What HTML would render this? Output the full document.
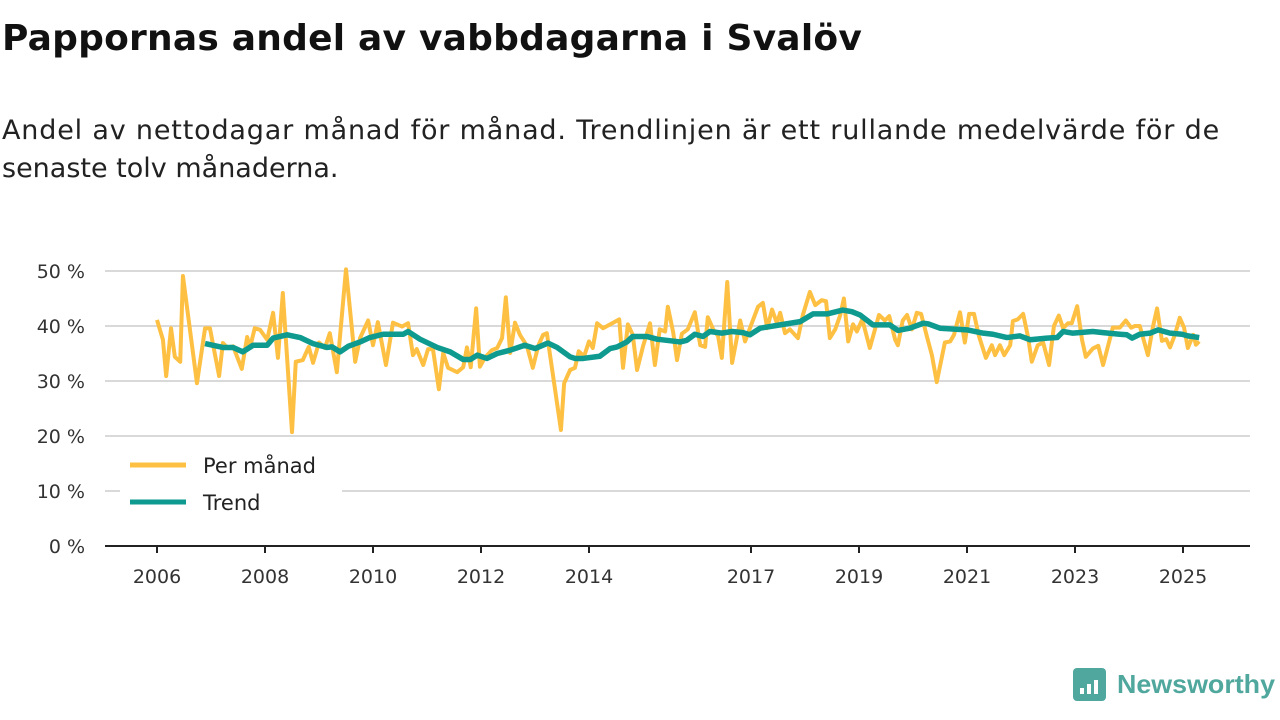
<!DOCTYPE html>
<html><head><meta charset="utf-8">
<style>
body{margin:0;width:1280px;height:720px;background:#fff;font-family:"DejaVu Sans","Liberation Sans",sans-serif;overflow:hidden;position:relative}
h1{position:absolute;left:2px;top:18px;margin:0;font-size:36px;font-weight:bold;color:#111;white-space:nowrap}
.sub{position:absolute;left:2px;top:112px;font-size:27px;line-height:38px;color:#222;white-space:nowrap}
.sub span{display:inline-block}
svg{position:absolute;left:0;top:0}
</style></head><body>
<h1 id="title">Pappornas andel av vabbdagarna i Svalöv</h1>
<div class="sub"><span id="s1">Andel av nettodagar månad för månad. Trendlinjen är ett rullande medelvärde för de</span><br><span>senaste tolv månaderna.</span></div>
<svg id="chart" width="1280" height="720"></svg>
<script>
const monthlyDates=[2006.00,2006.11,2006.17,2006.26,2006.33,2006.43,2006.48,2006.74,2006.89,2006.98,
2007.15,2007.22,2007.31,2007.41,2007.57,2007.67,2007.72,2007.81,2007.91,
2008.04,2008.15,2008.24,2008.33,2008.50,2008.57,2008.70,2008.81,2008.89,
2009.00,2009.11,2009.20,2009.33,2009.50,2009.67,2009.76,2009.91,
2010.00,2010.09,2010.24,2010.37,2010.54,2010.65,2010.74,2010.81,2010.93,
2011.02,2011.11,2011.22,2011.30,2011.39,2011.56,2011.67,2011.74,2011.81,2011.91,2011.98,
2012.07,2012.20,2012.30,2012.39,2012.46,2012.54,2012.63,2012.72,2012.85,2012.96,
2013.06,2013.15,2013.22,2013.48,2013.54,2013.65,2013.74,2013.81,2013.91,
2014.00,2014.07,2014.15,2014.26,2014.43,2014.56,2014.63,2014.72,2014.81,2014.89,
2015.00,2015.13,2015.22,2015.31,2015.41,2015.46,2015.56,2015.63,2015.72,2015.83,2015.96,
2016.06,2016.15,2016.20,2016.30,2016.39,2016.46,2016.56,2016.65,2016.80,2016.89,2016.98,
2017.13,2017.22,2017.30,2017.39,2017.48,2017.54,2017.63,2017.72,2017.87,2017.96,
2018.09,2018.19,2018.31,2018.39,2018.46,2018.56,2018.65,2018.72,2018.80,2018.89,2018.96,
2019.06,2019.20,2019.37,2019.48,2019.56,2019.67,2019.72,2019.81,2019.89,2019.98,
2020.07,2020.15,2020.26,2020.35,2020.44,2020.59,2020.69,2020.76,2020.87,2020.96,
2021.04,2021.13,2021.22,2021.35,2021.46,2021.52,2021.61,2021.69,2021.80,2021.85,2021.94,
2022.04,2022.13,2022.20,2022.31,2022.41,2022.52,2022.61,2022.70,2022.78,2022.87,2022.94,
2023.04,2023.13,2023.20,2023.33,2023.43,2023.52,2023.70,2023.83,2023.94,
2024.04,2024.11,2024.20,2024.35,2024.44,2024.52,2024.61,2024.69,2024.76,2024.85,2024.94,
2025.02,2025.09,2025.19,2025.24,2025.30];
const monthlyValues=[41.1,37.5,30.9,39.6,34.4,33.5,49.1,29.6,39.6,39.6,
30.9,36.9,36.0,36.3,32.2,38,36,39.6,39.3,
37.5,42.4,34.2,46,20.7,33.5,33.8,36.2,33.3,
37,36,38.7,31.6,50.3,33.5,37.8,41,
36.5,40.7,32.9,40.6,39.9,40.5,34.7,35.8,32.9,
35.8,35.8,28.5,35.1,32.4,31.6,32.5,36.1,32.5,43.2,32.6,
34.2,35.6,36,37.8,45.2,35.1,40.6,38.4,36.4,32.4,
36.4,38.4,38.7,21.1,29.6,32,32.4,35.4,34.5,
37.2,36,40.5,39.6,40.5,41.2,32.4,40.3,38.4,32,
36.3,40.5,32.9,39.4,39,43.5,38.8,33.8,38.6,39.4,42.5,
36.5,36.2,41.6,39.4,38.2,34.2,48,33.3,41,37.2,39.6,
43.5,44.2,39.6,43,40.5,42.4,38.7,39.4,37.8,42,
46.2,43.8,44.7,44.5,37.8,39.4,41.9,45,37.2,40.3,39,
41.2,36,42,41,41.8,37.5,36.5,41,42,39.4,
42.4,42.2,38,34.7,29.8,37,37.2,38.4,42.5,37,
42.2,42.2,38.2,34.2,36.5,34.7,36.5,34.7,36.5,40.9,41.2,
42.2,38,33.5,36.5,37,32.9,40,41.9,39.6,40.5,40.5,
43.6,37.5,34.4,35.9,36.4,32.9,39.7,39.7,41,
39.7,40,40,34.7,39.7,43.2,37.3,37.6,36.1,38.4,41.5,
39.7,36,38.4,36.6,37.2];
const trendDates=[2006.89,2007.22,2007.41,2007.59,2007.78,2008.04,2008.15,2008.41,2008.65,2008.89,
2009.15,2009.24,2009.39,2009.54,2009.76,2009.94,2010.19,2010.37,2010.56,2010.65,2010.87,
2011.19,2011.43,2011.67,2011.80,2011.93,2012.11,2012.30,2012.54,2012.81,2013.00,2013.24,2013.41,
2013.65,2013.74,2013.89,2014.20,2014.39,2014.52,2014.70,2014.81,2015.07,2015.26,2015.69,2015.81,
2015.96,2016.11,2016.24,2016.46,2016.65,2016.85,2016.98,2017.17,2017.54,2017.91,2018.15,2018.41,
2018.70,2018.87,2019.02,2019.26,2019.57,2019.72,2019.94,2020.19,2020.28,2020.50,2021.00,2021.30,
2021.48,2021.74,2021.98,2022.17,2022.48,2022.67,2022.78,2022.96,2023.33,2023.52,2023.83,2023.96,
2024.06,2024.20,2024.39,2024.54,2024.76,2024.98,2025.09,2025.30];
const trendValues=[36.8,36.1,36.1,35.3,36.5,36.5,37.8,38.4,37.9,36.8,
36.1,36.2,35.3,36.3,37.1,37.9,38.5,38.5,38.5,39.0,37.6,
36.1,35.3,33.9,33.9,34.7,34.1,35.0,35.6,36.5,35.9,36.9,36.1,
34.4,34.1,34.1,34.5,35.9,36.2,37.1,38.1,38.1,37.6,37.1,37.4,
38.5,38.1,39.0,38.7,39.0,38.8,38.4,39.6,40.2,40.8,42.2,42.2,
42.9,42.6,42.0,40.2,40.2,39.2,39.6,40.5,40.4,39.6,39.3,38.7,
38.5,37.9,38.2,37.5,37.8,37.9,39.0,38.7,39.0,38.8,38.5,38.4,
37.8,38.5,38.7,39.3,38.7,38.5,38.2,37.9];
const yTicks=[0,10,20,30,40,50];
const xTickYears=[2006,2008,2010,2012,2014,2017,2019,2021,2023,2025];

const NS="http://www.w3.org/2000/svg";
const svg=document.getElementById('chart');
const XY=yr=>157+(yr-2006)*54;
const Y=v=>546-v*5.5;
function mk(t,a){const e=document.createElementNS(NS,t);for(const k in a)e.setAttribute(k,a[k]);svg.appendChild(e);return e;}
yTicks.forEach(v=>{
  if(v>0){const g=mk('line',{x1:105,x2:1250,y1:Y(v),y2:Y(v),stroke:'#d9d9d9','stroke-width':2});
  
  }
  const t=mk('text',{x:85,y:Y(v)+7,'text-anchor':'end','font-size':19,fill:'#333'});
  t.textContent=v+' %';
  
  
});
const ax=mk('line',{x1:105,x2:1250,y1:546,y2:546,stroke:'#222','stroke-width':2});


xTickYears.forEach(yr=>{
  const tk=mk('line',{x1:XY(yr),x2:XY(yr),y1:546,y2:553,stroke:'#222','stroke-width':2});
  
  
  const t=mk('text',{x:XY(yr),y:583,'text-anchor':'middle','font-size':19,fill:'#333'});
  t.textContent=yr;
  
  
});
const m=mk('polyline',{points:monthlyValues.map((v,i)=>XY(monthlyDates[i])+','+Y(v)).join(' '),fill:'none',stroke:'#fdc043','stroke-width':4,'stroke-linejoin':'round'});


const tr=mk('polyline',{points:trendValues.map((v,i)=>XY(trendDates[i])+','+Y(v)).join(' '),fill:'none',stroke:'#0e9a8e','stroke-width':5.5,'stroke-linejoin':'round'});


const lb=mk('rect',{x:120,y:447,width:222,height:75,fill:'#fff'});


[['Per månad','#fdc043',465],['Trend','#0e9a8e',502]].forEach(([n,c,y])=>{
  const l=mk('line',{x1:130,x2:186,y1:y,y2:y,stroke:c,'stroke-width':5});
  
  
  const t=mk('text',{x:203,y:y+8,'font-size':21,fill:'#222'});
  t.textContent=n;
  
  
});
const ic=mk('rect',{x:1073,y:668,width:33,height:33,rx:4,fill:'#4fa79d'});


[[1080,688,6],[1087,684,10],[1094,680,14]].forEach(([x,y,h])=>{
  const b=mk('rect',{x:x,y:y,width:4,height:h,fill:'#fff'});
  
  
});
const lt=mk('text',{x:1117,y:693,'font-size':26,'font-weight':'bold',fill:'#4fa79d','font-family':'Liberation Sans, sans-serif',textLength:158,lengthAdjust:'spacingAndGlyphs'});
lt.textContent='Newsworthy';


function fit(el,target){el.style.letterSpacing='0px';const w=el.getBoundingClientRect().width;const n=el.textContent.length;el.style.letterSpacing=((target-w)/n)+'px';}
fit(document.getElementById('title'),860);
fit(document.getElementById('s1'),1218);
</script>
</body></html>
